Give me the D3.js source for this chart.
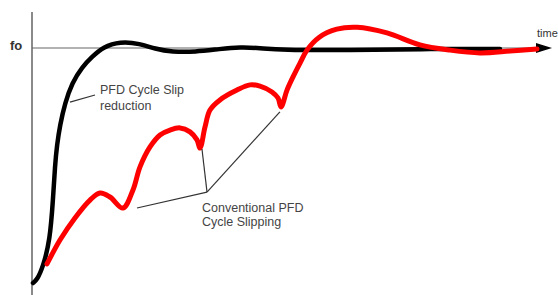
<!DOCTYPE html>
<html>
<head>
<meta charset="utf-8">
<script src="https://cdn.jsdelivr.net/npm/d3@7"></script>
<style>
  body { margin: 0; background: #fff; }
  svg { display: block; }
  text { font-family: "Liberation Sans", Arial, sans-serif; }
</style>
</head>
<body>
<svg id="chart" width="558" height="295"></svg>
<script>
// time (0..100) and frequency as a fraction of fo (fo = 1)
var pfdTime = [0.2, 0.98, 2.17, 3.54, 4.13, 4.53, 4.92, 5.51, 6.5, 7.87, 9.84, 11.81, 13.98, 17.32, 21.26, 24.2, 27.6, 32.1, 37.0, 40.94, 44.88, 48.82, 62.6, 76.38, 92.13]
var pfdFreq = [0, 0.013, 0.068, 0.183, 0.353, 0.502, 0.587, 0.672, 0.766, 0.851, 0.919, 0.962, 1.004, 1.028, 1.019, 0.996, 0.983, 0.983, 0.996, 1.004, 1.0, 0.991, 0.991, 0.996, 0.996]

var convTime = [2.95, 5.51, 8.46, 11.42, 13.39, 15.35, 17.91, 19.88, 21.26, 23.23, 25.2, 27.17, 29.13, 31.1, 32.48, 33.07, 34.06, 35.04, 37.0, 40.35, 42.91, 44.88, 47.24, 48.43, 49.02, 50.2, 51.38, 52.76, 54.13, 56.5, 60.0, 64.0, 69.88, 76.38, 82.28, 88.19, 94.09, 99.41]
var convFreq = [0.081, 0.183, 0.277, 0.353, 0.383, 0.366, 0.319, 0.396, 0.494, 0.579, 0.630, 0.651, 0.660, 0.643, 0.609, 0.574, 0.664, 0.736, 0.779, 0.821, 0.843, 0.838, 0.813, 0.787, 0.749, 0.821, 0.877, 0.936, 0.991, 1.045, 1.080, 1.088, 1.064, 1.013, 0.991, 0.979, 0.987, 0.996]

// slip dips the callout points at, and the callout junction
var slipTime = [20.67, 33.46, 48.8]
var slipFreq = [0.319, 0.570, 0.728]
var calloutTime = 34.45, calloutFreq = 0.387

var svg = d3.select("#chart")

var x = d3.scaleLinear().domain([0, 100]).range([32, 540])
var y = d3.scaleLinear().domain([0, 1]).range([283, 48])

var pfdLine = d3.line()
    .x(d => x(d[0]))
    .y(d => y(d[1]))
    .curve(d3.curveBasis)

var convLine = d3.line()
    .x(d => x(d[0]))
    .y(d => y(d[1]))
    .curve(d3.curveCatmullRom.alpha(0.5))

// axes
svg.append("line")
    .attr("x1", x(0)).attr("x2", x(0))
    .attr("y1", 12).attr("y2", 295)
    .attr("stroke", "#8a8a8a").attr("stroke-width", 2)

svg.append("line")
    .attr("x1", x(0)).attr("x2", x(100))
    .attr("y1", y(1)).attr("y2", y(1))
    .attr("stroke", "#666").attr("stroke-width", 1.2)

svg.append("path")
    .attr("d", `M${x(100) - 4},${y(1) - 5} L${x(100) + 12},${y(1)} L${x(100) - 4},${y(1) + 5} Z`)
    .attr("fill", "#000")

svg.append("text")
    .attr("x", 10).attr("y", y(1) + 2)
    .attr("font-size", 13).attr("font-weight", "bold")
    .attr("fill", "#333")
    .text("fo")

svg.append("text")
    .attr("x", 537).attr("y", 37)
    .attr("font-size", 11)
    .attr("fill", "#333")
    .text("time")

// curves
svg.append("path")
    .datum(d3.zip(pfdTime, pfdFreq))
    .attr("d", pfdLine)
    .attr("fill", "none")
    .attr("stroke", "#000")
    .attr("stroke-width", 4.5)
    .attr("stroke-linecap", "round")

svg.append("path")
    .datum(d3.zip(convTime, convFreq))
    .attr("d", convLine)
    .attr("fill", "none")
    .attr("stroke", "#ff0000")
    .attr("stroke-width", 5)
    .attr("stroke-linecap", "round")

// callouts
svg.append("line")
    .attr("x1", x(7.48)).attr("y1", y(0.77))
    .attr("x2", x(12.4)).attr("y2", y(0.80))
    .attr("stroke", "#333").attr("stroke-width", 1.2)

var note1 = svg.append("text")
    .attr("font-size", 12.5).attr("fill", "#444")
note1.append("tspan").attr("x", 100).attr("y", 94).text("PFD Cycle Slip")
note1.append("tspan").attr("x", 100).attr("y", 110).text("reduction")

slipTime.forEach((t, i) => {
    svg.append("line")
        .attr("x1", x(calloutTime)).attr("y1", y(calloutFreq))
        .attr("x2", x(t)).attr("y2", y(slipFreq[i]))
        .attr("stroke", "#333").attr("stroke-width", 1.2)
})

var note2 = svg.append("text")
    .attr("font-size", 12.5).attr("fill", "#444")
note2.append("tspan").attr("x", 202).attr("y", 212).text("Conventional PFD")
note2.append("tspan").attr("x", 202).attr("y", 226).text("Cycle Slipping")
</script>
</body>
</html>
